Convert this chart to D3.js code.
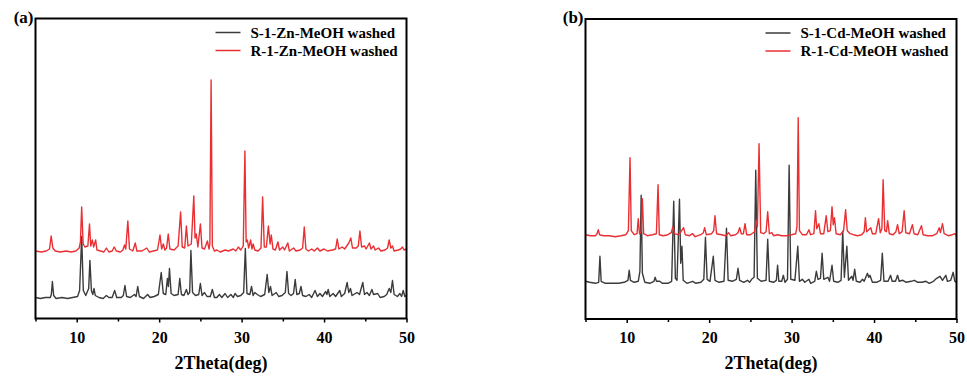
<!DOCTYPE html>
<html>
<head>
<meta charset="utf-8">
<script src="https://cdn.jsdelivr.net/npm/d3@7"></script>
<style>
  body { margin: 0; background: #fff; }
  svg text { font-family: "Times New Roman", "Liberation Serif", serif; font-weight: bold; fill: #000; }
</style>
</head>
<body>
<div id="chart"></div>
<script>
// 2theta / intensity pairs (a.u.), baseline ~0
var sZn = [[5,1],[5.6,0],[6.2,1],[6.8,1],[6.92,4],[7.05,17],[7.2,3],[7.5,0],[8.2,1],[8.9,0],[9.5,1],[10.1,2],[10.35,8],[10.6,62],[10.8,8],[11.1,3],[11.45,10],[11.6,38],[11.78,8],[11.95,4],[12.1,10],[12.25,3],[12.7,1],[13.2,0],[13.6,3],[13.9,1],[14.3,1],[14.6,8],[14.85,1],[15.4,1],[15.65,3],[15.85,13],[16.05,2],[16.5,1],[17.0,4],[17.2,2],[17.4,12],[17.6,2],[18.1,0],[18.6,4],[18.9,1],[19.4,2],[19.9,4],[20.25,26],[20.5,5],[20.8,4],[21.0,20],[21.12,12],[21.25,30],[21.45,5],[21.8,3],[22.3,4],[22.5,20],[22.7,4],[23.0,3],[23.3,9],[23.5,4],[23.7,6],[23.85,48],[24.05,6],[24.4,3],[24.8,4],[25.0,15],[25.2,3],[25.5,6],[25.8,2],[26.2,2],[26.45,9],[26.7,1],[27.0,1],[27.3,4],[27.6,1],[28.0,5],[28.3,1],[28.7,4],[29.0,1],[29.2,5],[29.5,2],[29.9,3],[30.25,6],[30.45,50],[30.65,5],[31.0,4],[31.2,12],[31.4,3],[31.6,6],[31.9,4],[32.3,2],[32.8,4],[33.1,24],[33.3,6],[33.5,12],[33.7,3],[34.2,6],[34.5,2],[34.9,3],[35.3,6],[35.5,27],[35.7,5],[36.0,3],[36.3,5],[36.5,19],[36.7,4],[37.0,5],[37.2,12],[37.4,3],[37.8,2],[38.2,4],[38.5,1],[38.9,8],[39.2,2],[39.5,5],[39.8,2],[40.2,7],[40.35,4],[40.5,9],[40.7,2],[41.1,5],[41.4,2],[41.9,8],[42.1,2],[42.5,5],[42.8,16],[43.0,6],[43.2,10],[43.4,3],[44.0,6],[44.3,4],[44.7,16],[44.9,4],[45.2,6],[45.5,3],[45.8,9],[46.0,4],[46.5,5],[46.8,1],[47.3,2],[47.6,4],[47.9,10],[48.1,6],[48.3,18],[48.5,4],[48.9,2],[49.2,5],[49.4,2],[49.6,8],[49.8,2],[50,3]];

var rZn = [[5,1],[5.7,0],[6.3,1],[6.7,3],[6.9,16],[7.1,4],[7.4,1],[8.0,0],[8.7,1],[9.3,0],[9.9,1],[10.3,4],[10.45,10],[10.6,45],[10.78,8],[11.0,5],[11.35,6],[11.55,28],[11.7,6],[11.9,12],[12.05,5],[12.3,12],[12.45,2],[12.9,1],[13.3,0],[13.6,4],[13.9,0],[14.3,1],[14.55,5],[14.8,1],[15.3,0],[15.6,2],[15.8,7],[15.95,3],[16.2,31],[16.4,3],[16.8,1],[17.1,9],[17.3,1],[17.9,1],[18.5,4],[18.8,0],[19.3,1],[19.8,2],[20.1,17],[20.3,3],[20.5,8],[20.7,2],[20.9,4],[21.1,18],[21.3,3],[21.8,2],[22.3,6],[22.6,40],[22.8,5],[23.1,4],[23.3,26],[23.5,6],[23.9,8],[24.2,56],[24.35,14],[24.5,18],[24.7,5],[25.0,28],[25.2,4],[25.5,3],[25.85,11],[26.05,3],[26.15,8],[26.3,172],[26.45,6],[26.7,1],[27.0,2],[27.4,0],[28.0,2],[28.4,1],[29.0,3],[29.3,1],[29.6,5],[29.9,2],[30.2,6],[30.4,101],[30.55,10],[30.7,12],[30.85,4],[31.1,12],[31.25,3],[31.4,8],[31.6,2],[32.0,1],[32.35,4],[32.55,55],[32.75,5],[33.0,5],[33.25,26],[33.45,8],[33.6,17],[33.8,3],[34.1,2],[34.4,10],[34.6,2],[35.0,5],[35.2,2],[35.6,9],[35.8,1],[36.3,4],[36.6,1],[37.1,2],[37.4,4],[37.6,25],[37.8,3],[38.1,1],[38.5,3],[38.8,1],[39.2,4],[39.5,1],[40.0,3],[40.4,1],[41.0,2],[41.4,3],[41.6,13],[41.8,3],[42.2,5],[42.5,3],[43.0,9],[43.25,14],[43.45,4],[43.9,4],[44.15,6],[44.35,21],[44.55,5],[44.9,6],[45.1,3],[45.5,9],[45.7,3],[46.0,6],[46.2,2],[46.6,4],[46.9,1],[47.4,2],[47.7,4],[47.9,12],[48.1,4],[48.3,6],[48.5,1],[49.0,2],[49.3,3],[49.5,5],[49.7,2],[50,3]];

var sCd = [[5,2],[5.5,1],[6.2,0],[6.6,1],[6.75,27],[6.9,2],[7.4,0],[8.2,0],[9.0,0],[9.7,1],[10.15,3],[10.3,13],[10.45,3],[10.9,1],[11.4,2],[11.6,12],[11.75,88],[11.9,10],[12.2,1],[12.8,0],[13.3,2],[13.45,6],[13.6,2],[14.0,2],[14.3,0],[15.0,0],[15.45,2],[15.7,82],[15.9,5],[16.1,3],[16.4,84],[16.55,20],[16.7,37],[16.85,3],[17.3,0],[18.0,2],[18.4,0],[19.0,1],[19.35,4],[19.55,46],[19.75,4],[20.1,2],[20.5,27],[20.7,3],[21.2,1],[21.8,2],[22.1,55],[22.3,3],[22.8,2],[23.3,4],[23.5,15],[23.7,3],[24.2,1],[24.65,3],[24.9,1],[25.15,4],[25.45,6],[25.65,113],[25.85,5],[26.3,2],[26.9,3],[27.1,44],[27.3,2],[27.8,1],[28.15,3],[28.3,18],[28.45,2],[28.8,2],[29.0,8],[29.2,1],[29.5,4],[29.7,118],[29.9,4],[30.4,3],[30.75,37],[30.95,2],[31.3,4],[31.6,1],[32.1,4],[32.3,0],[32.8,2],[33.0,12],[33.2,4],[33.5,5],[33.7,30],[33.9,4],[34.4,6],[34.6,2],[34.9,18],[35.1,2],[35.6,1],[36.0,3],[36.2,52],[36.4,6],[36.7,37],[36.9,3],[37.3,7],[37.45,3],[37.65,14],[37.85,2],[38.3,1],[38.6,4],[38.8,2],[39.2,10],[39.35,6],[39.5,8],[39.8,1],[40.3,1],[40.8,3],[41.0,30],[41.2,2],[41.7,2],[42.0,8],[42.2,2],[42.6,2],[42.85,8],[43.05,2],[43.5,3],[43.9,1],[44.5,2],[44.9,3],[45.3,1],[45.8,1],[46.3,2],[46.7,0],[47.2,2],[47.6,5],[48.0,7],[48.3,3],[48.7,8],[48.9,2],[49.3,3],[49.6,11],[49.8,2],[50,1]];

var rCd = [[5,2],[5.6,1],[6.2,1],[6.4,3],[6.55,7],[6.7,2],[7.2,1],[7.9,1],[8.6,0],[9.3,1],[9.9,2],[10.2,6],[10.4,79],[10.55,6],[10.9,2],[11.25,3],[11.4,18],[11.55,3],[11.75,5],[11.9,38],[12.05,3],[12.5,1],[13.1,2],[13.6,3],[13.8,52],[13.95,2],[14.4,1],[15.0,2],[15.4,4],[15.6,10],[15.8,3],[16.2,2],[16.5,4],[16.9,9],[17.1,2],[17.6,1],[18.0,3],[18.3,0],[19.0,2],[19.3,4],[19.45,9],[19.65,2],[20.3,3],[20.55,6],[20.7,21],[20.9,3],[21.5,2],[22.0,1],[22.35,4],[22.6,1],[23.2,2],[23.5,4],[23.7,9],[23.9,3],[24.15,3],[24.35,13],[24.55,2],[25.0,2],[25.5,5],[25.7,16],[25.85,10],[26.05,93],[26.25,4],[26.6,3],[26.9,5],[27.1,25],[27.3,3],[27.6,4],[27.8,1],[28.3,2],[28.8,1],[29.4,1],[30.0,2],[30.5,3],[30.65,10],[30.8,119],[30.95,6],[31.3,2],[31.8,2],[32.1,7],[32.3,2],[32.7,3],[32.9,26],[33.05,8],[33.3,13],[33.5,3],[33.9,3],[34.2,21],[34.4,5],[34.7,6],[34.9,30],[35.05,12],[35.2,19],[35.4,3],[35.9,2],[36.3,6],[36.55,27],[36.75,6],[37.1,3],[37.5,2],[38.0,1],[38.5,2],[38.8,5],[38.95,19],[39.1,5],[39.35,7],[39.6,9],[39.8,3],[40.2,3],[40.55,18],[40.75,4],[40.95,8],[41.1,57],[41.3,6],[41.5,5],[41.65,16],[41.85,3],[42.3,2],[42.65,5],[42.85,12],[43.05,3],[43.4,5],[43.65,26],[43.85,4],[44.3,3],[44.65,12],[44.85,3],[45.3,2],[45.75,11],[45.95,2],[46.5,1],[47.1,1],[47.6,3],[47.9,9],[48.05,4],[48.3,13],[48.5,3],[49.0,1],[49.5,2],[49.8,3],[50,1]];

// vertical stacking offsets (a.u.) for S and R traces
var offsetsZn = [20, 66.5];
var offsetsCd = [35.7, 82.3];

var panelLabels = ["(a)", "(b)"];
var legendZn = ["S-1-Zn-MeOH washed", "R-1-Zn-MeOH washed"];
var legendCd = ["S-1-Cd-MeOH washed", "R-1-Cd-MeOH washed"];
var majorTicks = [10, 20, 30, 40, 50];
var minorTicks = [5, 15, 25, 35, 45];
var xDomain = [5, 50];
var yDomain = [0, 300];
var xTitle = "2Theta(deg)";

var colors = ["#3b3b3b", "#ea2f33"];

var svg = d3.select("#chart").append("svg")
    .attr("width", 967)
    .attr("height", 376);

var panelW = 371,
    panelH = 300;

function drawPanel(left, top, label, series, offsets, legend) {
    var xScale = d3.scaleLinear().domain(xDomain).range([0, panelW]);
    var yScale = d3.scaleLinear().domain(yDomain).range([panelH, 0]);

    var g = svg.append("g").attr("transform", "translate(" + left + "," + top + ")");

    g.append("defs").append("clipPath").attr("id", "clip" + label.charAt(1))
        .append("rect").attr("width", panelW).attr("height", panelH);

    // traces
    series.forEach(function(s, i) {
        var line = d3.line()
            .x(function(d) { return xScale(d[0]); })
            .y(function(d) { return yScale(d[1] + offsets[i]); });
        g.append("path")
            .attr("clip-path", "url(#clip" + label.charAt(1) + ")")
            .attr("d", line(s))
            .attr("fill", "none")
            .attr("stroke", colors[i])
            .attr("stroke-width", 1.4)
            .attr("stroke-linejoin", "round");
    });

    // frame
    g.append("rect")
        .attr("width", panelW)
        .attr("height", panelH)
        .attr("fill", "none")
        .attr("stroke", "#000")
        .attr("stroke-width", 2);

    // bottom axis, major + minor
    var major = g.append("g")
        .attr("transform", "translate(0," + panelH + ")")
        .call(d3.axisBottom(xScale).tickValues(majorTicks).tickSize(4).tickPadding(9));
    major.select(".domain").remove();
    major.selectAll("line").attr("stroke-width", 1.5);
    major.selectAll("text")
        .style("font-size", "16px")
        .style("font-family", "'Times New Roman', 'Liberation Serif', serif")
        .style("font-weight", "bold");

    var minor = g.append("g")
        .attr("transform", "translate(0," + panelH + ")")
        .call(d3.axisBottom(xScale).tickValues(minorTicks).tickSize(3).tickFormat(""));
    minor.select(".domain").remove();
    minor.selectAll("line").attr("stroke-width", 1.5);

    // x axis title
    g.append("text")
        .attr("x", panelW / 2)
        .attr("y", panelH + 50)
        .attr("text-anchor", "middle")
        .style("font-size", "18px")
        .text(xTitle);

    // panel label
    g.append("text")
        .attr("x", -2)
        .attr("y", 4)
        .attr("text-anchor", "end")
        .style("font-size", "17px")
        .text(label);

    // legend
    legend.forEach(function(name, i) {
        var ly = 14 + i * 18;
        g.append("line")
            .attr("x1", panelW - 191).attr("x2", panelW - 166)
            .attr("y1", ly).attr("y2", ly)
            .attr("stroke", colors[i])
            .attr("stroke-width", 1.5);
        g.append("text")
            .attr("x", panelW - 156)
            .attr("y", ly + 5)
            .style("font-size", "15px")
            .text(name);
    });
}

drawPanel(35.5, 18.5, panelLabels[0], [sZn, rZn], offsetsZn, legendZn);
drawPanel(585.5, 19, panelLabels[1], [sCd, rCd], offsetsCd, legendCd);
</script>
</body>
</html>
